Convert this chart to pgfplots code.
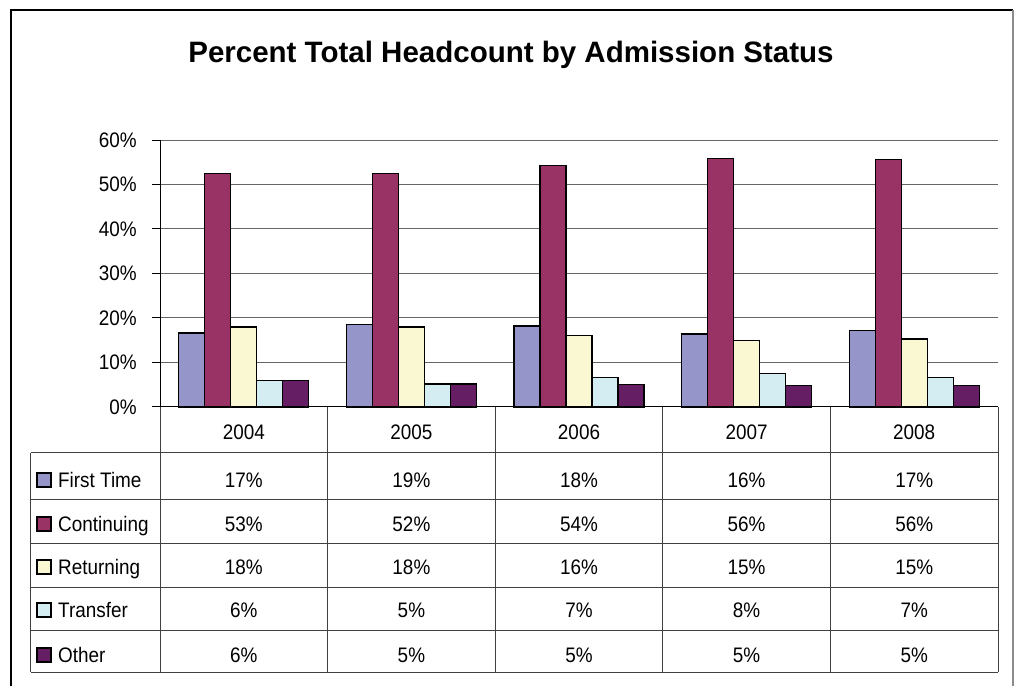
\documentclass[border=0pt]{standalone}
\usepackage{pgfplots}
\pgfplotsset{compat=1.18}
\usepackage{fontspec}
\setmainfont{Liberation Sans}[FakeStretch=0.9]
\newfontfamily\titlefont{Liberation Sans}
\definecolor{cFirst}{HTML}{9595C9}
\definecolor{cCont}{HTML}{993366}
\definecolor{cRet}{HTML}{FAF8D2}
\definecolor{cTrans}{HTML}{D4EDF3}
\definecolor{cOther}{HTML}{651E63}
\begin{document}
\begin{tikzpicture}[x=1pt,y=1pt]
\useasboundingbox (-160,-278) rectangle (854,407);
% outer frame
\draw[black, line width=1.5pt] (-149,-290) -- (-149,397) -- (853,397);
\draw[black!45, line width=1.2pt] (853,397) -- (853,-290);
\begin{axis}[at={(0,0)}, anchor=south west, scale only axis,
  width=838pt, height=267pt,
  xmin=-0.5, xmax=4.5, ymin=0, ymax=60,
  ybar=0pt, bar width=26pt,
  axis x line=bottom, axis y line=left,
  axis line style={-, black, line width=1pt},
  xtick=\empty,
  ytick={0,10,20,30,40,50,60},
  yticklabels={0\%,10\%,20\%,30\%,40\%,50\%,60\%},
  tick align=outside, major tick length=8pt,
  ytick style={black, line width=1pt},
  ymajorgrids, grid style={black!60, line width=1pt},
  yticklabel style={font=\fontsize{21}{25}\selectfont, anchor=east, inner sep=0pt, xshift=-15pt},
  clip=false,
  every axis plot/.append style={draw=black, line width=1.3pt}]
\addplot[fill=cFirst] coordinates {(0,16.6) (1,18.6) (2,18.2) (3,16.4) (4,17.2)};
\addplot[fill=cCont] coordinates {(0,52.5) (1,52.4) (2,54.2) (3,55.9) (4,55.6)};
\addplot[fill=cRet] coordinates {(0,18.0) (1,18.0) (2,16.0) (3,14.9) (4,15.3)};
\addplot[fill=cTrans] coordinates {(0,6.0) (1,5.2) (2,6.7) (3,7.6) (4,6.6)};
\addplot[fill=cOther] coordinates {(0,5.9) (1,5.2) (2,5.0) (3,4.8) (4,4.8)};
\end{axis}
% title
\node[anchor=base, font=\fontsize{29.5}{34}\titlefont\bfseries, inner sep=0pt] at (351,344.7) {Percent Total Headcount by Admission Status};
% data table
\begin{scope}[black!75, line width=1pt]
\foreach \k in {0,...,5} { \draw (167.6*\k,0) -- (167.6*\k,-265); }
\draw (-129,-46) -- (-129,-265);
\foreach \yy in {-46,-92,-136,-180,-223,-265} { \draw (-129,\yy) -- (838,\yy); }
\end{scope}
\begin{scope}[every node/.style={anchor=base, inner sep=0pt, font=\fontsize{21}{25}\selectfont}]
\foreach \lab [count=\i from 0] in {2004,2005,2006,2007,2008} { \node at (83.8+167.6*\i,-33) {\lab}; }
\foreach \v [count=\i from 0] in {17\%,19\%,18\%,16\%,17\%} { \node at (83.8+167.6*\i,-80) {\v}; }
\foreach \v [count=\i from 0] in {53\%,52\%,54\%,56\%,56\%} { \node at (83.8+167.6*\i,-124) {\v}; }
\foreach \v [count=\i from 0] in {18\%,18\%,16\%,15\%,15\%} { \node at (83.8+167.6*\i,-167) {\v}; }
\foreach \v [count=\i from 0] in {6\%,5\%,7\%,8\%,7\%} { \node at (83.8+167.6*\i,-210) {\v}; }
\foreach \v [count=\i from 0] in {6\%,5\%,5\%,5\%,5\%} { \node at (83.8+167.6*\i,-255) {\v}; }
\node[anchor=base west] at (-102,-80) {First Time};
\node[anchor=base west] at (-102,-124) {Continuing};
\node[anchor=base west] at (-102,-167) {Returning};
\node[anchor=base west] at (-102,-210) {Transfer};
\node[anchor=base west] at (-102,-255) {Other};
\end{scope}
\begin{scope}[draw=black, line width=1.2pt]
\filldraw[fill=cFirst] (-123,-80) rectangle (-109,-66);
\filldraw[fill=cCont] (-123,-124) rectangle (-109,-110);
\filldraw[fill=cRet] (-123,-167) rectangle (-109,-153);
\filldraw[fill=cTrans] (-123,-210) rectangle (-109,-196);
\filldraw[fill=cOther] (-123,-255) rectangle (-109,-241);
\end{scope}
\end{tikzpicture}
\end{document}
